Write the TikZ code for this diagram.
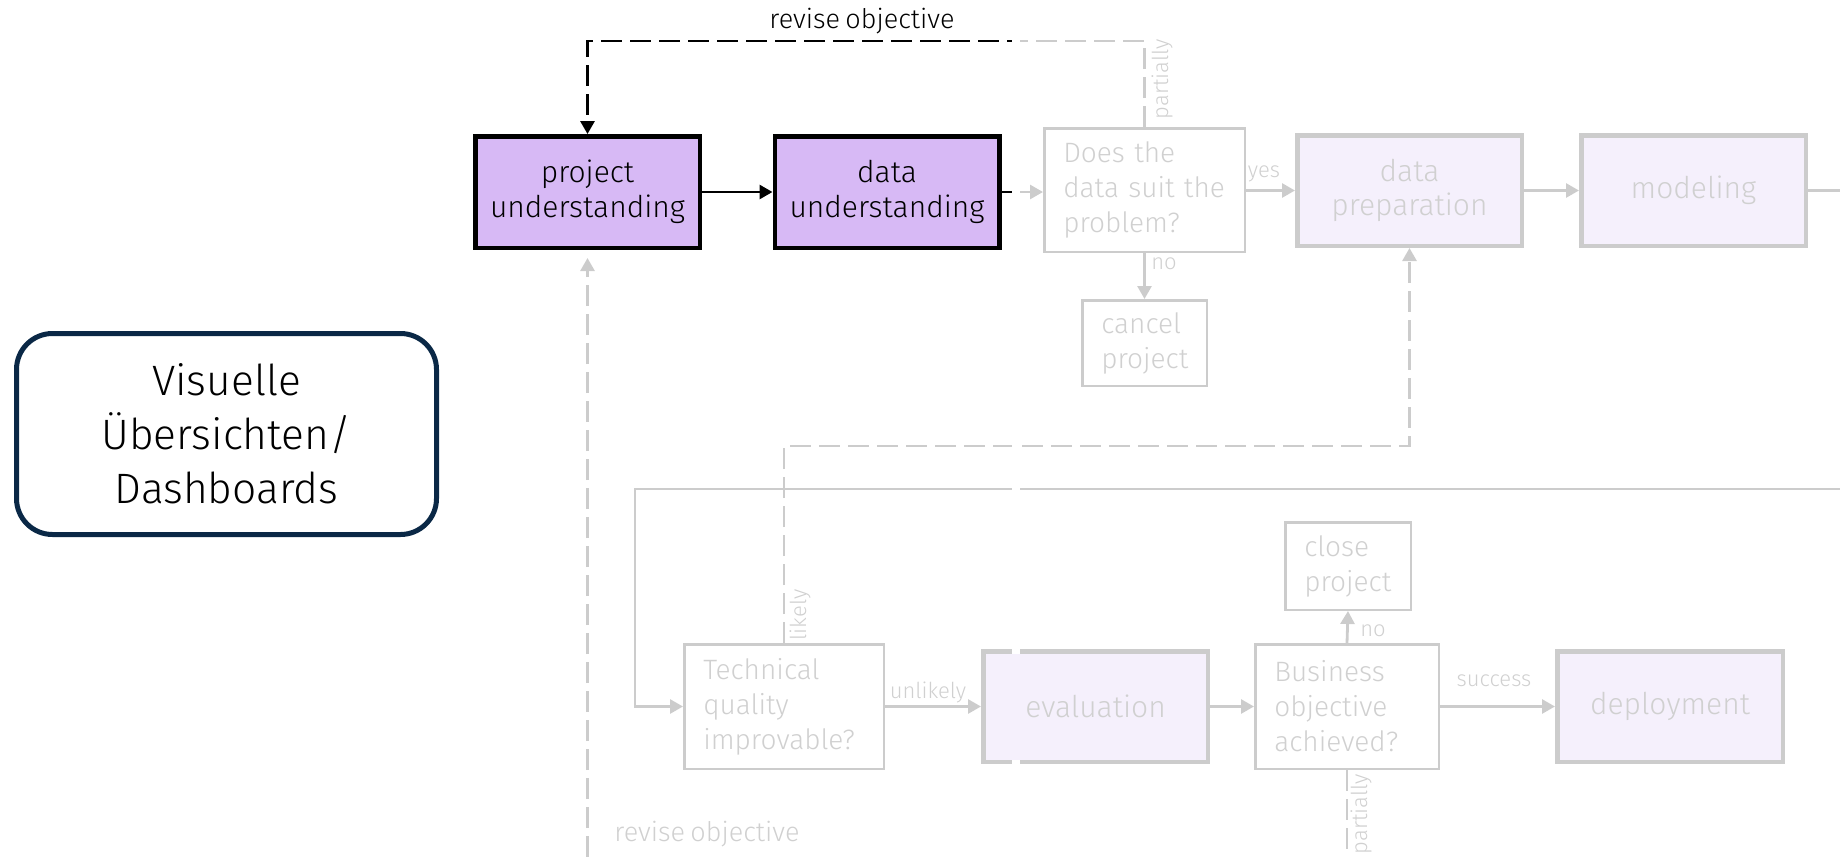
\documentclass[tikz,border=0pt]{standalone}
\usepackage{fontspec}
\setmainfont{Fira Sans Light}[WordSpace=0.7]
\usetikzlibrary{arrows.meta}

\definecolor{lav}{RGB}{215,185,245}
\definecolor{lavlight}{RGB}{245,240,252}
\definecolor{lgray}{RGB}{204,204,204}
\definecolor{tgray}{RGB}{208,208,208}
\definecolor{navy}{RGB}{10,40,70}

\newcommand\boxfont{\fontsize{30}{34.5}\selectfont}
\newcommand\askfont{\fontsize{28}{35}\selectfont}
\newcommand\lblfont{\fontsize{22}{26}\selectfont}
\newcommand\revfont{\fontsize{27}{31}\selectfont}
\newcommand\visfont{\fontsize{42.5}{54}\selectfont}

\begin{document}
\begin{tikzpicture}[x=1pt,y=-1pt,
  every node/.style={inner sep=0pt},
  active/.style={draw=black, line width=4.5pt, fill=lav, text=black,
    minimum width=224.5pt, minimum height=111.5pt, align=center, font=\boxfont},
  phase/.style={draw=lgray, line width=4.5pt, fill=lavlight, text=tgray,
    minimum width=224.5pt, minimum height=110.5pt, align=center, font=\boxfont},
  query/.style={draw=lgray, line width=2.5pt, fill=white, text=tgray,
    align=left, inner xsep=19pt, font=\askfont},
  conn/.style={color=lgray, line width=2.8pt, -{Triangle[length=13pt,width=14pt]}},
  plain/.style={color=lgray, line width=2.8pt},
  dashpat/.style={dash pattern=on 21pt off 8pt},
  lbl/.style={text=tgray, font=\lblfont},
]
\useasboundingbox (0,0) rectangle (1840,857);

% side box
\node[draw=navy, line width=5pt, rounded corners=36pt, fill=white,
      minimum width=420pt, minimum height=201pt, align=center, font=\visfont]
      (vis) at (226.5,434) {Visuelle\\Übersichten/\\Dashboards};

% upper row
\node[active] (pu) at (587.5,192) {project\\understanding};
\node[active] (du) at (887,192) {data\\understanding};
\node[query, text width=162.5pt, minimum height=123.5pt] (does) at (1144.5,190)
      {\mbox{Does the}\\\mbox{data suit the}\\\mbox{problem?}};
\node[phase] (dp) at (1409.5,190.5) {data\\preparation};
\node[phase] (mod) at (1693.5,190.5) {modeling};
\node[query, text width=86.5pt, minimum height=85.5pt] (cancel) at (1144.5,343)
      {\mbox{cancel}\\\mbox{project}};

% lower row
\node[query, text width=161.5pt, minimum height=124.5pt] (tech) at (784,706.5)
      {\mbox{Technical}\\\mbox{quality}\\\mbox{improvable?}};
\node[phase, minimum width=224.5pt] (eval) at (1095.5,706.5) {evaluation};
\node[query, text width=145.5pt, minimum height=124.5pt] (bus) at (1347,706.5)
      {\mbox{Business}\\\mbox{objective}\\\mbox{achieved?}};
\node[query, text width=87.5pt, minimum height=87.5pt] (close) at (1348,566)
      {\mbox{close}\\\mbox{project}};
\node[phase, minimum width=225.5pt] (dep) at (1670,706.5) {deployment};

% route points
\coordinate (tr) at (1144.5,41);
\coordinate (tl) at (587.5,41);
\coordinate (modout) at (1840,190.5);
\coordinate (loopin) at (1840,489);
\coordinate (loopl) at (635,489);
\coordinate (likup) at (784,446);
\coordinate (dpdown) at (1409.5,446);
\coordinate (revin) at (587.5,857);
\coordinate (partout) at (1347,857);

% grey connectors
\draw[conn, dashpat] (does.north) -- (tr) -- (tl) -- (pu.north);
\draw[conn, dash pattern=on 10pt off 6pt on 13pt off 20pt] (du.east) -- (does.west |- du.east);
\draw[conn] (does.east |- dp.west) -- (dp.west);
\draw[conn] (does.south) -- (cancel.north);
\draw[conn] (dp.east) -- (mod.west);
\draw[plain] (mod.east) -- (modout);
\draw[conn] (loopin) -- (loopl) -- (loopl |- tech.west) -- (tech.west);
\draw[conn, dashpat] (tech.north) -- (likup) -- (dpdown) -- (dp.south);
\draw[conn] (tech.east) -- (eval.west);
\draw[conn] (eval.east) -- (bus.west);
\draw[conn] (bus.north) -- (close.south);
\draw[conn] (bus.east) -- (dep.west);
\draw[plain, dashpat] (bus.south) -- (partout);
\draw[conn, dashpat, shorten >=8pt] (revin) -- (pu.south);

% highlighted part of the iteration path
\begin{scope}
  \clip (0,0) rectangle (1012,857);
  \draw[conn, dashpat, color=black] (does.north) -- (tr) -- (tl) -- (pu.north);
  \draw[conn, dash pattern=on 10pt off 6pt on 13pt off 20pt, color=black] (du.east) -- (does.west |- du.east);
\end{scope}
\draw[conn, color=black] (pu.east) -- (du.west);

% seam between highlighted and faded parts
\fill[white] (1012,0) rectangle (1020,640);
\fill[white] (1012,645) rectangle (1020,857);
\fill[lavlight] (1012,653.5) rectangle (1020,759.5);

% connector labels
\node[font=\revfont, text=black] (revtop) at (862,21) {revise objective};
\node[lbl, rotate=90] (parttop) at (1162,79) {partially};
\node[lbl] (yes) at (1264,174) {yes};
\node[lbl] (no1) at (1164,264) {no};
\node[lbl, rotate=90] (likely) at (800,615) {likely};
\node[lbl] (unlikely) at (928,692) {unlikely};
\node[lbl] (no2) at (1373,631) {no};
\node[lbl] (success) at (1494,681) {success};
\node[lbl, rotate=90] (partbot) at (1361,814) {partially};
\node[font=\revfont, text=tgray] (revbot) at (707,834) {revise objective};
\end{tikzpicture}
\end{document}
